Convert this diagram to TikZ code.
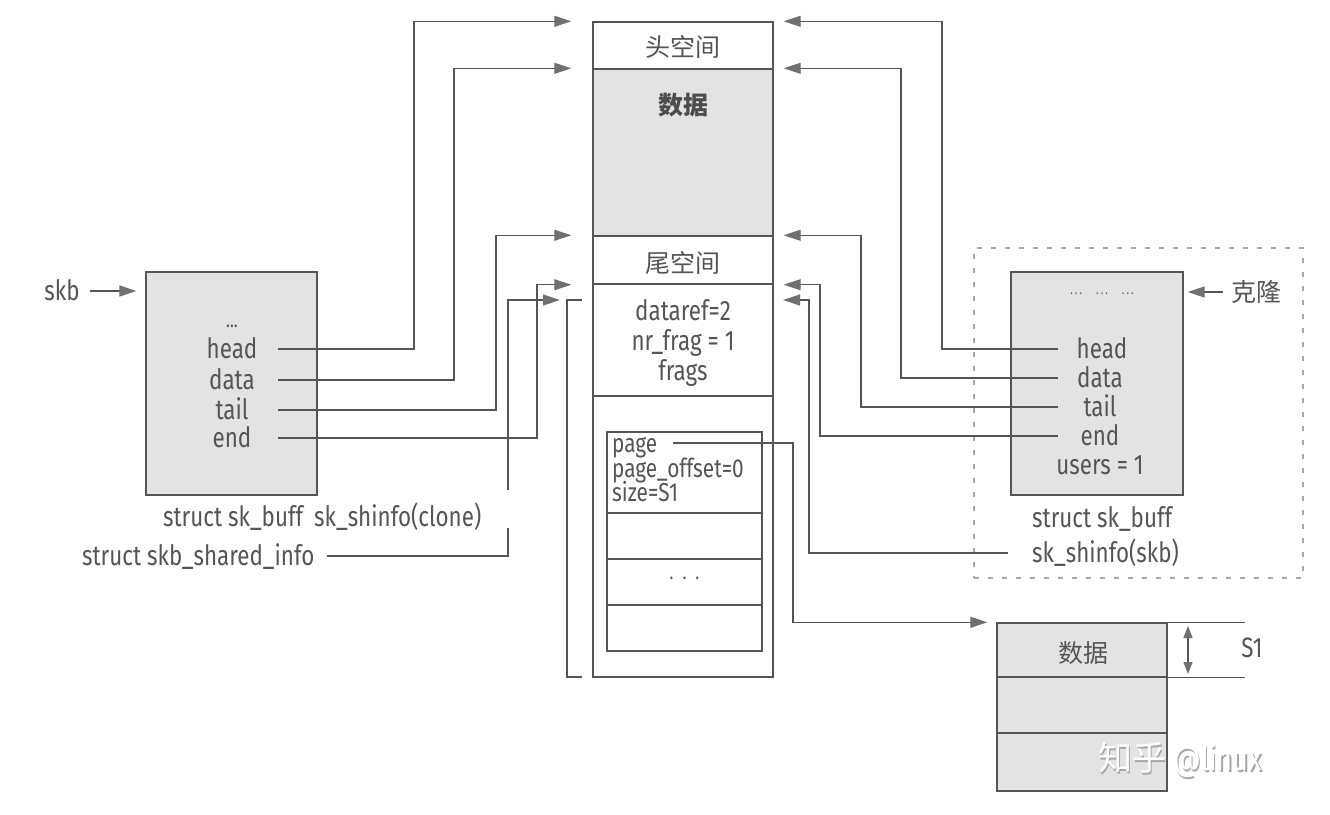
\documentclass[tikz,border=0pt]{standalone}
\usepackage{fontspec}
\setmainfont{Fira Sans}[FakeStretch=0.8]
\newfontfamily\cjk{Noto Sans CJK SC}
\usetikzlibrary{arrows.meta}
\definecolor{ink}{HTML}{555555}
\definecolor{tipc}{HTML}{707070}
\definecolor{shade}{HTML}{E3E3E3}
\definecolor{dashc}{HTML}{A8A8A8}
\begin{document}
\begin{tikzpicture}[x=1pt,y=-1pt,
  every node/.style={inner sep=0pt, text=ink},
  txt/.style={font=\fontsize{28}{32}\selectfont, text height=19pt, text depth=0pt},
  smalltxt/.style={font=\fontsize{26}{28}\selectfont, text height=18pt, text depth=0pt},
  multi/.style={font=\fontsize{28}{30}\selectfont, align=center},
  cjktxt/.style={font=\cjk\fontsize{25}{30}\selectfont},
  cjkbold/.style={font=\cjk\bfseries\fontsize{25}{30}\selectfont, text=ink!90!black},
  cell/.style={draw=ink, line width=1.4pt, minimum width=180pt},
  line/.style={draw=ink, line width=1.3pt},
  arr/.style={line, -{Triangle[length=17pt,width=11pt,color=tipc]}},
  dbox/.style={draw=dashc, line width=1.3pt, dash pattern=on 5pt off 9pt}
]
\useasboundingbox (0,0) rectangle (1330,814);
\fill[white] (0,0) rectangle (1330,814);

% ---------- centre column ----------
\node[cell, minimum height=47pt] (hs) at (683,45.5) {};
\node[cjktxt] (hsl) at (683,47) {头空间};
\node[cell, fill=shade, minimum height=167pt] (dat) at (683,152.5) {};
\node[cjkbold] (datl) at (683,105) {数据};
\node[cell, minimum height=48pt] (ts) at (683,260) {};
\node[cjktxt] (tsl) at (683,263) {尾空间};
\node[cell, minimum height=112pt] (shi) at (683,340) {};
\node[multi] (shil) at (683,343) {dataref=2\\nr\_frag = 1\\frags};
\node[cell, minimum height=281pt] (frz) at (683,536.5) {};

\node[cell, minimum width=155pt, minimum height=81pt] (pg) at (684.5,472.5) {};
\node[cell, minimum width=155pt, minimum height=46pt] (f2) at (684.5,536) {};
\node[cell, minimum width=155pt, minimum height=46pt] (f3) at (684.5,582) {};
\node[cell, minimum width=155pt, minimum height=46pt] (f4) at (684.5,628) {};
\node[font=\fontsize{20}{22}\selectfont] (f3l) at (684.5,578) {.\hspace{9pt}.\hspace{9pt}.};
\node[smalltxt, anchor=west] (pgt1) at (612,443) {page};
\node[smalltxt, anchor=west] (pgt2) at (612,468) {page\_offset=0};
\node[smalltxt, anchor=west] (pgt3) at (612,492) {size=S1};

% ---------- left sk_buff ----------
\node[cell, fill=shade, minimum width=171pt, minimum height=223pt] (lb) at (231.5,383.5) {};
\node[font=\fontsize{20}{22}\selectfont] (ldots) at (232,326) {...};
\node[txt] (lhead) at (232,349) {head};
\node[txt] (ldata) at (232,380) {data};
\node[txt] (ltail) at (232,410) {tail};
\node[txt] (lend) at (232,438) {end};
\node[txt] (skb) at (62,291) {skb};
\draw[arr] ([xshift=10pt]skb.east) -- ([xshift=-9pt]lb.west |- skb);

\node[txt, anchor=west] (lsk) at (163,517) {struct sk\_buff};
\node[txt, anchor=west] (lshc) at (314,517) {sk\_shinfo(clone)};
\node[txt, anchor=west] (lsi) at (82,556) {struct skb\_shared\_info};

% ---------- right clone ----------
\node[dbox, minimum width=329pt, minimum height=330pt] (grp) at (1138.5,413) {};
\node[cell, fill=shade, minimum width=172pt, minimum height=223pt] (rb) at (1097,383.5) {};
\node[font=\fontsize{13}{14}\selectfont] (rdots) at (1102,294) {.\,.\,.\hspace{14pt}.\,.\,.\hspace{14pt}.\,.\,.};
\node[txt] (rhead) at (1102,349) {head};
\node[txt] (rdata) at (1100,378) {data};
\node[txt] (rtail) at (1100,407) {tail};
\node[txt] (rend) at (1100,436) {end};
\node[txt] (rusers) at (1100,465) {users = 1};
\node[cjktxt] (kl) at (1256,292) {克隆};
\draw[arr] ([xshift=-8pt]kl.west) -- ([xshift=4pt]rb.east |- kl);
\node[txt, anchor=west] (rsk) at (1032,518) {struct sk\_buff};
\node[txt, anchor=west] (rsi) at (1032,553) {sk\_shinfo(skb)};

% ---------- fragment data ----------
\node[cell, fill=shade, minimum width=170pt, minimum height=54pt] (d1) at (1082,650) {};
\node[cell, fill=shade, minimum width=170pt, minimum height=56pt] (d2) at (1082,705) {};
\node[cell, fill=shade, minimum width=170pt, minimum height=58pt] (d3) at (1082,762) {};
\node[cjktxt] (d1l) at (1083,653) {数据};
\draw[line] (d1.north east) -- ++(77,0);
\draw[line] (d1.south east) -- ++(77,0);
\coordinate (s1a) at (1188,626);
\coordinate (s1b) at (1188,674);
\draw[line, {Triangle[length=12pt,width=9pt,color=tipc]}-{Triangle[length=12pt,width=9pt,color=tipc]}] (s1a) -- (s1b);
\node[txt] (s1) at (1252,648) {S1};

% ---------- columns for connectors ----------
\coordinate (xL0) at (278,0);
\coordinate (xR0) at (1058,0);
\coordinate (cL1) at (414,0);
\coordinate (cL2) at (454,0);
\coordinate (cL3) at (496,0);
\coordinate (cL4) at (537,0);
\coordinate (cR1) at (942,0);
\coordinate (cR2) at (901,0);
\coordinate (cR3) at (861,0);
\coordinate (cR4) at (820,0);
\coordinate (cR5) at (809,0);
\coordinate (xP) at (673,0);
\coordinate (cP) at (793,0);
\coordinate (shy) at (0,300);

% left pointers
\draw[arr] (xL0 |- lhead) -| (cL1 |- hs.north) -- ([xshift=-21pt]hs.north west);
\draw[arr] (xL0 |- ldata) -| (cL2 |- dat.north) -- ([xshift=-21pt]dat.north west);
\draw[arr] (xL0 |- ltail) -| (cL3 |- ts.north) -- ([xshift=-21pt]ts.north west);
\draw[arr] (xL0 |- lend) -| (cL4 |- ts.south) -- ([xshift=-21pt]ts.south west);

% left shared info
\coordinate (sh1) at (508,490);
\coordinate (sh2) at (508,528);
\coordinate (tsh) at (560,300);
\draw[arr] (sh1) |- (tsh);
\draw[line] ([xshift=12pt]lsi.east) -| (sh2);

% bracket
\coordinate (bk1) at (582,300);
\coordinate (bk2) at (582,677);
\draw[line] (bk1) -- ++(-15,0) |- (bk2);

% right pointers
\draw[arr] (xR0 |- rhead) -| (cR1 |- hs.north) -- ([xshift=10pt]hs.north east);
\draw[arr] (xR0 |- rdata) -| (cR2 |- dat.north) -- ([xshift=10pt]dat.north east);
\draw[arr] (xR0 |- rtail) -| (cR3 |- ts.north) -- ([xshift=10pt]ts.north east);
\draw[arr] (xR0 |- rend) -| (cR4 |- ts.south) -- ([xshift=10pt]ts.south east);
\coordinate (trsh) at (783,300);
\draw[arr] ([xshift=-24pt]rsi.west) -| (cR5 |- shy) -- (trsh);

% page pointer
\draw[arr] (xP |- pgt1) -| (cP |- d1.north) -- ([xshift=-9pt]d1.north west);

% watermark
\node[font=\fontsize{34}{40}\selectfont, text=gray!70] (wms) at (1181.5,761.5) {{\cjk 知乎} @linux};
\node[font=\fontsize{34}{40}\selectfont, text=white] (wm) at (1180,760) {{\cjk 知乎} @linux};
\end{tikzpicture}
\end{document}
